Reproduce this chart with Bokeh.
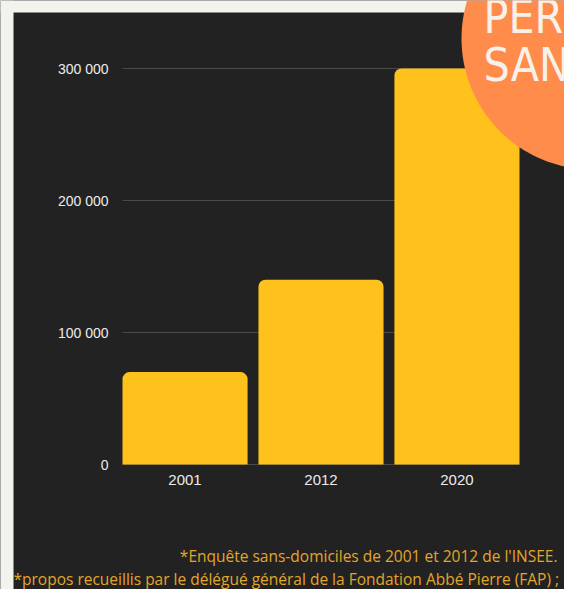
import math
from bokeh.plotting import figure
from bokeh.models import (Range1d, FixedTicker, Label, BoxAnnotation, PolyAnnotation, LinearAxis)
from bokeh.embed import file_html
from bokeh.resources import INLINE

# data
years = ["2001", "2012", "2020"]
values = [70000, 140000, 300000]
y_ticks = [0, 100000, 200000, 300000]
title_lines = ["PERSONNES", "SANS ABRIS"]
notes = ["*Enquête sans-domiciles de 2001 et 2012 de l'INSEE.",
         "*propos recueillis par le délégué général de la Fondation Abbé Pierre (FAP)  ;"]

W, H = 564, 589
DARK = "#222222"
LIGHT = "#f3f3ee"

# layout of the plotting area in page pixels
PL, PR, PT, PB = 122, 519, 68, 464
BAR_W = 0.92
x_lo, x_hi = -BAR_W / 2, len(years) - 1 + BAR_W / 2
y_lo, y_hi = 0, max(y_ticks)
sx = (PR - PL) / (x_hi - x_lo)
sy = (PB - PT) / (y_hi - y_lo)
x_range = Range1d(x_lo - PL / sx, x_hi + (W - PR) / sx)
y_range = Range1d(y_lo - (H - PB) / sy, y_hi + PT / sy)

p = figure(width=W, height=H, output_backend="svg", toolbar_location=None,
           x_range=x_range, y_range=y_range, x_axis_location=None, y_axis_location=None,
           min_border=0)
p.background_fill_color = DARK
p.border_fill_color = DARK
p.outline_line_color = None
p.xgrid.visible = False
p.ygrid.visible = False

# grid lines
p.segment(x0=[x_lo] * len(y_ticks), x1=[x_hi] * len(y_ticks), y0=y_ticks, y1=y_ticks,
          line_color="#4a4a4a", line_width=1)

xs = list(range(len(years)))
p.vbar(x=xs, top=values, width=BAR_W, fill_color="#ffc11c", line_color=None,
       border_radius=(7, 7, 0, 0))

xaxis = LinearAxis(fixed_location=0, ticker=FixedTicker(ticks=xs),
                   major_label_overrides={i: y for i, y in zip(xs, years)})
yaxis = LinearAxis(fixed_location=x_lo, ticker=FixedTicker(ticks=y_ticks),
                   major_label_overrides={v: f"{v:,}".replace(",", " ") for v in y_ticks})
for ax in (xaxis, yaxis):
    ax.axis_line_color = None
    ax.major_tick_line_color = None
    ax.minor_tick_line_color = None
    ax.major_label_text_color = "#ececec"
    ax.major_label_text_font = "Liberation Sans"
xaxis.major_label_text_font_size = "15px"
yaxis.major_label_text_font_size = "14px"
yaxis.major_label_standoff = 8
xaxis.major_label_standoff = 4
p.add_layout(xaxis, "below")
p.add_layout(yaxis, "left")

# light page margins
box_kw = dict(left_units="canvas", right_units="canvas", top_units="canvas",
              bottom_units="canvas", fill_color=LIGHT, fill_alpha=1, line_color=None,
              level="underlay")
p.add_layout(BoxAnnotation(left=0, right=13, top=0, bottom=H, **box_kw))
p.add_layout(BoxAnnotation(left=0, right=W, top=0, bottom=12, **box_kw))

# orange badge
cx, cy, r = 592, 38, 131
n = 160
px = [cx + r * math.cos(2 * math.pi * k / n) for k in range(n)]
py = [cy + r * math.sin(2 * math.pi * k / n) for k in range(n)]
p.add_layout(PolyAnnotation(xs=px, ys=py, xs_units="canvas", ys_units="canvas",
                            fill_color="#ff8c4a", fill_alpha=1, line_color=None,
                            level="overlay"))
for i, t in enumerate(title_lines):
    p.add_layout(Label(x=483, y=16 + 48 * i, x_units="canvas", y_units="canvas", text=t,
                       text_font="'Noto Sans ExtraCondensed', 'Noto Sans Condensed', "
                                 "'DejaVu Sans Condensed', Roboto",
                       text_font_size="46px", text_color="#f6f1ea",
                       text_baseline="alphabetic", level="overlay"))

p.add_layout(Label(x=557, y=555, x_units="canvas", y_units="canvas", text=notes[0],
                   text_align="right", text_baseline="alphabetic",
                   text_font="Open Sans", text_font_size="15.5px", text_color="#e2a62a"))
p.add_layout(Label(x=13, y=578, x_units="canvas", y_units="canvas", text=notes[1],
                   text_align="left", text_baseline="alphabetic",
                   text_font="Open Sans", text_font_size="15.5px", text_color="#e2a62a"))

open("out.html", "w").write(file_html(p, INLINE))
